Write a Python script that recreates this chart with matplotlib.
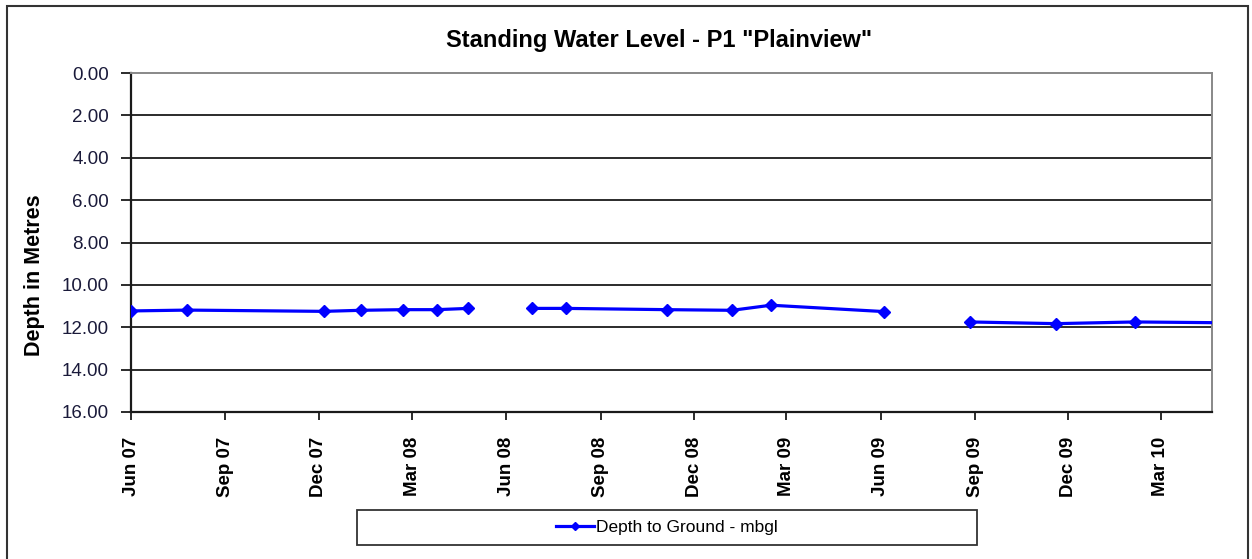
import numpy as np
import pandas as pd
import matplotlib
matplotlib.use("Agg")
import matplotlib.pyplot as plt
import matplotlib.dates as mdates
from matplotlib.patches import Rectangle

plt.rcParams["font.family"] = ["Liberation Sans", "DejaVu Sans"]

# ---------------------------------------------------------------------------
# Data (None = no reading -> gap in the line)
# ---------------------------------------------------------------------------
dates = [
    "2007-06-01", "2007-07-26", "2007-12-06", "2008-01-11", "2008-02-21",
    "2008-03-25", "2008-04-25", "2008-05-26",
    "2008-06-26", "2008-07-29", "2008-11-05", "2009-01-07", "2009-02-14",
    "2009-06-04", "2009-07-20",
    "2009-08-27", "2009-11-19", "2010-02-04", "2010-05-05",
]
depth = [
    11.23, 11.19, 11.25, 11.20, 11.17,
    11.17, 11.11, None,
    11.11, 11.11, 11.17, 11.20, 10.96,
    11.26, None,
    11.75, 11.83, 11.75, 11.79,
]
series_label = "Depth to Ground - mbgl"
title = 'Standing Water Level - P1 "Plainview"'
y_label = "Depth in Metres"
y_ticks = [0, 2, 4, 6, 8, 10, 12, 14, 16]
x_start, x_end = "2007-06-01", "2010-04-20"

W, H = 1252, 559

x = pd.to_datetime(dates)
y = np.array([np.nan if v is None else v for v in depth], dtype=float)

fig = plt.figure(figsize=(W / 100, H / 100), dpi=100)
fig.patch.set_facecolor("white")

# outer chart frame (bottom edge runs off the picture)
fig.add_artist(Rectangle((7 / W, -0.05), (1248 - 7) / W, 1.05 - 6 / H,
                         transform=fig.transFigure, fill=False,
                         edgecolor="#333333", linewidth=1.5))

ax = fig.add_axes([131 / W, 1 - 412 / H, (1212 - 131) / W, (412 - 73) / H])

ax.plot(x, y, color="#0000FF", linewidth=2.3, marker="D", markersize=6.5,
        markeredgecolor="#0000FF", label=series_label, zorder=3)

ax.set_xlim(pd.Timestamp(x_start), pd.Timestamp(x_end))
ax.set_ylim(max(y_ticks), min(y_ticks))
ax.set_yticks(y_ticks)
ax.yaxis.set_major_formatter(plt.FormatStrFormatter("%.2f"))
ax.hlines(y_ticks[1:-1], 0, 1, transform=ax.get_yaxis_transform(),
          colors="#1a1a1a", linewidth=1.3, zorder=1)

ax.xaxis.set_major_locator(mdates.MonthLocator(bymonth=[3, 6, 9, 12]))
ax.xaxis.set_major_formatter(mdates.DateFormatter("%b %y"))

for lbl in ax.get_xticklabels():
    lbl.set_rotation(90)
    lbl.set_fontweight("bold")
ax.tick_params(axis="x", labelsize=13.5, length=6, width=1.3, pad=12,
               direction="out", colors="#1a1a1a", labelcolor="black")
ax.tick_params(axis="y", labelsize=13.5, length=7, width=1.3, pad=9,
               direction="out", colors="#1a1a1a", labelcolor="#1a1a3a")

for side in ("left", "bottom"):
    ax.spines[side].set_color("#1a1a1a")
    ax.spines[side].set_linewidth(1.6)
for side in ("top", "right"):
    ax.spines[side].set_color("#888888")
    ax.spines[side].set_linewidth(1.4)

fig.text(659 / W, 1 - 41 / H, title, ha="center", va="center",
         fontsize=17, fontweight="bold")
fig.text(35 / W, 1 - 275 / H, y_label, ha="center", va="center",
         rotation=90, fontsize=15.5, fontweight="bold")

# legend box below the axis
fig.add_artist(Rectangle((357 / W, 1 - 545 / H), (977 - 357) / W, 35 / H,
                         transform=fig.transFigure, fill=False,
                         edgecolor="#333333", linewidth=1.3))
fig.legend(loc="center", bbox_to_anchor=(667 / W, 1 - 527.5 / H),
           frameon=False, fontsize=12.5, handlelength=2.2, handletextpad=0.1,
           markerscale=0.6)

fig.savefig("out.png", dpi=100, facecolor="white")
